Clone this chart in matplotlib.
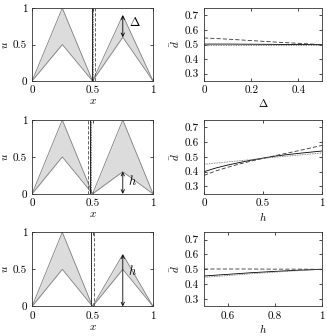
import numpy as np
import matplotlib
matplotlib.use("Agg")
import matplotlib.pyplot as plt

plt.rcParams['font.family'] = 'serif'
plt.rcParams['font.serif'] = ['cmr10', 'DejaVu Serif']
plt.rcParams['mathtext.fontset'] = 'cm'
plt.rcParams['axes.formatter.use_mathtext'] = True
plt.rcParams['font.size'] = 8

# --- left panels: profile u(x), peaks at x = 0.25 and 0.75 ---
x_nodes = [0, 0.25, 0.5, 0.75, 1.0]
upper_peaks = [[1.0, 0.9], [1.0, 1.0], [1.0, 0.7]]   # (left hump, right hump)
lower_peaks = [[0.5, 0.6], [0.5, 0.3], [0.5, 0.5]]
# vertical markers: solid, dashed, dotted
solid_pos = [0.496, 0.477, 0.485]
dashed_pos = [0.52, 0.46, 0.51]
dotted_pos = [0.5, 0.486, 0.49]
arrow_from = [0.6, 0.0, 0.0]
arrow_to = [0.9, 0.3, 0.7]
arrow_label = [r'$\Delta$', r'$h$', r'$h$']
label_pos = [(0.8, 0.76), (0.79, 0.12), (0.79, 0.42)]

# --- right panels: d-bar ---
delta = [0.0, 0.1, 0.2, 0.3, 0.4, 0.5]
d1_solid = [0.503, 0.503, 0.502, 0.501, 0.500, 0.499]
d1_dashed = [0.545, 0.537, 0.527, 0.517, 0.508, 0.499]
d1_dotted = [0.498, 0.498, 0.498, 0.498, 0.498, 0.498]

h2 = [0.0, 0.1, 0.2, 0.3, 0.4, 0.5, 0.6, 0.7, 0.8, 0.9, 1.0]
d2_solid = [0.400, 0.425, 0.445, 0.462, 0.478, 0.492, 0.505, 0.515, 0.524, 0.532, 0.540]
d2_dashed = [0.375, 0.405, 0.430, 0.452, 0.472, 0.490, 0.508, 0.525, 0.542, 0.560, 0.578]
d2_dotted = [0.450, 0.458, 0.466, 0.474, 0.482, 0.490, 0.498, 0.505, 0.512, 0.519, 0.527]

h3 = [0.5, 0.6, 0.7, 0.8, 0.9, 1.0]
d3_solid = [0.455, 0.466, 0.477, 0.486, 0.494, 0.500]
d3_dashed = [0.502, 0.502, 0.502, 0.501, 0.501, 0.500]
d3_dotted = [0.446, 0.458, 0.470, 0.481, 0.491, 0.500]

right_x = [delta, h2, h3]
right_solid = [d1_solid, d2_solid, d3_solid]
right_dashed = [d1_dashed, d2_dashed, d3_dashed]
right_dotted = [d1_dotted, d2_dotted, d3_dotted]
right_xlim = [(0, 0.5), (0, 1), (0.5, 1)]
right_xticks = [[0, 0.2, 0.4], [0, 0.5, 1], [0.6, 0.8, 1]]
right_xticklabels = [['0', '0.2', '0.4'], ['0', '0.5', '1'], ['0.6', '0.8', '1']]
right_xlabel = [r'$\Delta$', r'$h$', r'$h$']

fig = plt.figure(figsize=(3.27, 3.36), dpi=100)
rows = [(0.759, 0.217), (0.423, 0.220), (0.088, 0.221)]

def style(ax):
    ax.tick_params(direction='in', top=True, right=True, length=2.5, width=0.5,
                   pad=3.5, labelsize=8)
    for s in ax.spines.values():
        s.set_linewidth(0.6)
        s.set_color('0.2')

for i, (b, hgt) in enumerate(rows):
    # left panel
    ax = fig.add_axes([0.098, b, 0.370, hgt])
    up = [0, upper_peaks[i][0], 0, upper_peaks[i][1], 0]
    lo = [0, lower_peaks[i][0], 0, lower_peaks[i][1], 0]
    ax.fill_between(x_nodes, lo, up, color='#dcdcdc', lw=0)
    ax.plot(x_nodes, up, color='0.5', lw=0.6)
    ax.plot(x_nodes, lo, color='0.5', lw=0.6)
    ax.axvline(solid_pos[i], color='k', lw=0.6)
    ax.axvline(dashed_pos[i], color='0.3', lw=0.6, ls=(0, (4, 2)))
    ax.axvline(dotted_pos[i], color='0.3', lw=0.6, ls=(0, (1, 1)))
    ax.annotate('', xy=(0.75, arrow_to[i]), xytext=(0.75, arrow_from[i]),
                arrowprops=dict(arrowstyle='<->', lw=0.6, color='k',
                                shrinkA=0, shrinkB=0, mutation_scale=6))
    ax.text(label_pos[i][0], label_pos[i][1], arrow_label[i], fontsize=9)
    ax.set_xlim(0, 1)
    ax.set_ylim(0, 1)
    ax.set_xticks([0, 0.5, 1])
    ax.set_xticklabels(['0', '0.5', '1'])
    ax.set_yticks([0, 0.5, 1])
    ax.set_yticklabels(['0', '0.5', '1'])
    ax.set_xlabel(r'$x$', labelpad=1)
    ax.set_ylabel(r'$u$', labelpad=2)
    style(ax)

    # right panel
    ax = fig.add_axes([0.624, b, 0.361, hgt])
    ax.plot(right_x[i], right_solid[i], color='k', lw=0.6)
    ax.plot(right_x[i], right_dashed[i], color='0.2', lw=0.6, ls=(0, (5, 2.5)))
    ax.plot(right_x[i], right_dotted[i], color='0.4', lw=0.6, ls=(0, (1, 1)))
    ax.set_xlim(*right_xlim[i])
    ax.set_ylim(0.25, 0.75)
    ax.set_xticks(right_xticks[i])
    ax.set_xticklabels(right_xticklabels[i])
    ax.set_yticks([0.3, 0.4, 0.5, 0.6, 0.7])
    ax.set_yticklabels(['0.3', '0.4', '0.5', '0.6', '0.7'])
    ax.set_xlabel(right_xlabel[i], labelpad=1)
    ax.set_ylabel(r'$\bar{d}$', labelpad=2)
    style(ax)

fig.savefig('out.png', dpi=100)
